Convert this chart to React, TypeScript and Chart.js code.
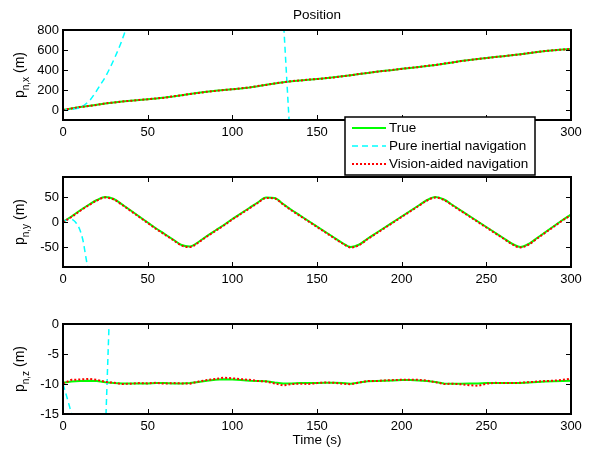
import React, { useEffect, useRef } from 'react';
import { Chart, registerables } from 'chart.js';

Chart.register(...registerables);

const W = 595;
const H = 451;
const FONT = "'Liberation Sans', Arial, Helvetica, sans-serif";

// ---------- data ----------
const T = [
  0, 5, 10, 15, 20, 25, 30, 35, 40, 45,
  50, 55, 60, 65, 70, 75, 80, 85, 90, 95,
  100, 105, 110, 115, 120, 125, 130, 135, 140, 145,
  150, 155, 160, 165, 170, 175, 180, 185, 190, 195,
  200, 205, 210, 215, 220, 225, 230, 235, 240, 245,
  250, 255, 260, 265, 270, 275, 280, 285, 290, 295,
  300,
];

const PX_TRUE = [
  0, 15, 30, 40, 52, 65, 76, 85, 93, 100,
  108, 115, 124, 135, 148, 160, 172, 182, 192, 200,
  208, 216, 226, 238, 252, 265, 277, 288, 296, 303,
  310, 318, 327, 337, 348, 360, 371, 382, 392, 401,
  412, 421, 430, 440, 451, 463, 476, 489, 500, 510,
  520, 529, 538, 547, 557, 568, 580, 590, 598, 604,
  610,
];
const PX_VIS = [
  0, 16, 29, 41, 51, 66, 75, 86, 92, 101,
  107, 116, 123, 136, 147, 161, 171, 183, 191, 201,
  207, 217, 225, 239, 251, 266, 276, 289, 295, 304,
  309, 319, 326, 338, 347, 361, 370, 383, 391, 402,
  411, 422, 429, 441, 450, 464, 475, 490, 499, 511,
  519, 530, 537, 548, 556, 569, 579, 591, 597, 605,
  609,
];
const INS_X_T = [0, 4, 8, 10, 13, 16, 19, 22, 25, 28, 31, 34, 37, 40, 60, 90, 120, 128, 130, 131, 132, 133, 134, 136, 150, 200, 300];
const INS_X_V = [0, 4, 14, 25, 55, 100, 170, 250, 330, 430, 540, 660, 800, 940, 2200, 3500, 2400, 1500, 950, 650, 350, 50, -250, -900, -4000, -12000, -30000];

const PY_TRUE = [
  0, 11, 23, 34, 44, 50, 46, 35, 23, 11,
  -1, -13, -24, -35, -46, -49, -40, -28, -17, -6,
  6, 17, 28, 39, 49, 48, 36, 24, 13, 2,
  -9, -20, -31, -42, -50, -45, -33, -22, -11, 0,
  11, 22, 33, 44, 50, 45, 34, 23, 12, 1,
  -10, -21, -32, -43, -50, -44, -32, -20, -8, 4,
  15,
];
const PY_VIS = [
  0, 10, 22, 33, 43, 49, 45, 34, 22, 10,
  -2, -14, -25, -36, -47, -50, -41, -29, -18, -7,
  5, 16, 27, 38, 48, 47, 35, 23, 12, 1,
  -10, -21, -32, -43, -51, -46, -34, -23, -12, -1,
  10, 21, 32, 43, 49, 44, 33, 22, 11, 0,
  -11, -22, -33, -44, -51, -45, -33, -21, -9, 3,
  14,
];
const INS_Y_T = [0, 2, 4, 6, 8, 10, 12, 13, 14, 15, 17, 20, 40, 300];
const INS_Y_V = [0, 4, 6, 4, -3, -16, -40, -60, -80, -100, -140, -210, -900, -50000];

const PZ_TRUE = [
  -9.8, -9.6, -9.5, -9.45, -9.5, -9.7, -9.85, -9.9, -9.9, -9.9,
  -9.9, -9.85, -9.85, -9.9, -9.9, -9.85, -9.65, -9.45, -9.3, -9.2,
  -9.25, -9.35, -9.45, -9.5, -9.55, -9.75, -9.9, -9.9, -9.85, -9.85,
  -9.85, -9.8, -9.8, -9.85, -9.95, -9.75, -9.55, -9.5, -9.45, -9.4,
  -9.35, -9.35, -9.4, -9.5, -9.65, -9.9, -9.95, -9.95, -9.9, -9.9,
  -9.85, -9.85, -9.85, -9.85, -9.85, -9.75, -9.65, -9.6, -9.55, -9.5,
  -9.45,
];
const PZ_VIS = [
  -9.9, -9.3, -9.25, -9.15, -9.3, -9.65, -9.8, -10.0, -9.95, -9.85,
  -9.9, -9.8, -9.95, -9.85, -9.9, -9.95, -9.6, -9.35, -9.15, -8.95,
  -9.05, -9.2, -9.3, -9.5, -9.6, -9.9, -10.25, -10.0, -9.95, -10.0,
  -9.85, -9.75, -9.8, -9.95, -10.05, -9.75, -9.5, -9.5, -9.4, -9.35,
  -9.3, -9.3, -9.3, -9.45, -9.7, -10.0, -9.95, -10.05, -10.2, -10.3,
  -9.95, -9.8, -9.85, -9.85, -9.8, -9.7, -9.6, -9.5, -9.45, -9.3,
  -9.1,
];
const INS_Z_T = [0, 2, 4, 5, 6, 10, 15, 20, 23, 24.5, 25.4, 26.3, 27.2, 28, 30, 40, 300];
const INS_Z_V = [-10, -11.9, -13.9, -15, -16.2, -22, -32, -38, -33, -22.5, -15, -7.5, 0, 7, 25, 120, 3000];

const X_TICKS = [0, 50, 100, 150, 200, 250, 300];
const PX_TICKS = [0, 200, 400, 600, 800];
const PY_TICKS = [-50, 0, 50];
const PZ_TICKS = [-15, -10, -5, 0];

const LEGEND_LABELS = ['True', 'Pure inertial navigation', 'Vision-aided navigation'];
const TITLE = 'Position';
const X_LABEL = 'Time (s)';

// ---------- styles / layout ----------
const C_TRUE = '#00ff00';
const C_INS = '#00ffff';
const C_VIS = '#ff0000';
const LEFT = 63;
const RIGHT = 571;
const XAXIS_H = 30;

const PANELS = [
  { sub: 'n,x', min: -100, max: 800, ticks: PX_TICKS, top: 30, bottom: 120, tv: PX_TRUE, vv: PX_VIS, it: INS_X_T, iv: INS_X_V, title: true, legend: true, xlabel: false, smooth: false },
  { sub: 'n,y', min: -90, max: 90, ticks: PY_TICKS, top: 177, bottom: 267, tv: PY_TRUE, vv: PY_VIS, it: INS_Y_T, iv: INS_Y_V, title: false, legend: false, xlabel: false, smooth: true },
  { sub: 'n,z', min: -15, max: 0, ticks: PZ_TICKS, top: 324, bottom: 414, tv: PZ_TRUE, vv: PZ_VIS, it: INS_Z_T, iv: INS_Z_V, title: false, legend: false, xlabel: true, smooth: false },
];

function pts(t: number[], v: number[]) {
  return t.map((x, i) => ({ x, y: v[i] }));
}

const boxPlugin = {
  id: 'mbox',
  afterDatasetsDraw(chart: any) {
    const { ctx, chartArea: a, scales } = chart;
    ctx.save();
    ctx.strokeStyle = '#000';
    ctx.lineWidth = 1;
    ctx.setLineDash([]);
    ctx.beginPath();
    for (const t of scales.x.ticks) {
      const px = Math.round(scales.x.getPixelForValue(t.value)) + 0.5;
      ctx.moveTo(px, a.bottom);
      ctx.lineTo(px, a.bottom - 5);
      ctx.moveTo(px, a.top);
      ctx.lineTo(px, a.top + 5);
    }
    for (const t of scales.y.ticks) {
      const py = Math.round(scales.y.getPixelForValue(t.value)) + 0.5;
      ctx.moveTo(a.left, py);
      ctx.lineTo(a.left + 5, py);
      ctx.moveTo(a.right, py);
      ctx.lineTo(a.right - 5, py);
    }
    ctx.stroke();
    ctx.lineWidth = 2;
    ctx.strokeRect(a.left, a.top, a.right - a.left, a.bottom - a.top);
    ctx.restore();
  },
  afterDraw(chart: any, _args: any, opts: any) {
    const { ctx, chartArea: a } = chart;
    ctx.save();
    ctx.fillStyle = '#000';
    // y label with subscript
    const cy = (a.top + a.bottom) / 2;
    ctx.translate(24, cy);
    ctx.rotate(-Math.PI / 2);
    const big = `14px ${FONT}`;
    const small = `10px ${FONT}`;
    ctx.font = big;
    const w1 = ctx.measureText('p').width;
    const w3 = ctx.measureText(' (m)').width;
    ctx.font = small;
    const w2 = ctx.measureText(opts.sub).width;
    let x0 = -(w1 + w2 + w3) / 2;
    ctx.textBaseline = 'alphabetic';
    ctx.textAlign = 'left';
    ctx.font = big;
    ctx.fillText('p', x0, 0);
    x0 += w1;
    ctx.font = small;
    ctx.fillText(opts.sub, x0, 5);
    x0 += w2;
    ctx.font = big;
    ctx.fillText(' (m)', x0, 0);
    ctx.restore();

    ctx.save();
    ctx.fillStyle = '#000';
    ctx.font = `13.5px ${FONT}`;
    ctx.textAlign = 'center';
    ctx.textBaseline = 'middle';
    const cx = (a.left + a.right) / 2;
    if (opts.title) ctx.fillText(TITLE, cx, a.top - 15);
    if (opts.xlabel) ctx.fillText(X_LABEL, cx, a.bottom + 26);
    ctx.restore();

    if (opts.legend) {
      const lx = a.right - 226;
      const ly = a.bottom - 3;
      const lw = 190;
      const lh = 58;
      ctx.save();
      ctx.fillStyle = '#fff';
      ctx.fillRect(lx, ly, lw, lh);
      ctx.strokeStyle = '#000';
      ctx.lineWidth = 1.5;
      ctx.strokeRect(lx, ly, lw, lh);
      const styles = [
        { c: C_TRUE, w: 2, d: [] as number[] },
        { c: C_INS, w: 1.5, d: [6, 4] },
        { c: C_VIS, w: 2, d: [2, 2] },
      ];
      LEGEND_LABELS.forEach((lab, i) => {
        const y = ly + 11 + i * 18;
        ctx.strokeStyle = styles[i].c;
        ctx.lineWidth = styles[i].w;
        ctx.setLineDash(styles[i].d);
        ctx.beginPath();
        ctx.moveTo(lx + 7, y);
        ctx.lineTo(lx + 41, y);
        ctx.stroke();
        ctx.setLineDash([]);
        ctx.fillStyle = '#000';
        ctx.font = `13.5px ${FONT}`;
        ctx.textAlign = 'left';
        ctx.textBaseline = 'middle';
        ctx.fillText(lab, lx + 44, y);
      });
      ctx.restore();
    }
  },
};

function makeConfig(p: any): any {
  const tickFont = { size: 13, family: FONT };
  const interp = p.smooth ? { cubicInterpolationMode: 'monotone' } : { tension: 0 };
  return {
    type: 'line',
    data: {
      datasets: [
        { label: LEGEND_LABELS[0], data: pts(T, p.tv), borderColor: C_TRUE, borderWidth: 2, pointRadius: 0, order: 3, ...interp },
        { label: LEGEND_LABELS[1], data: pts(p.it, p.iv), borderColor: C_INS, borderWidth: 1.5, borderDash: [6, 4], pointRadius: 0, cubicInterpolationMode: 'monotone', order: 2 },
        { label: LEGEND_LABELS[2], data: pts(T, p.vv), borderColor: C_VIS, borderWidth: 2, borderDash: [2, 2], pointRadius: 0, order: 1, ...interp },
      ],
    },
    options: {
      animation: false,
      responsive: false,
      maintainAspectRatio: false,
      events: [],
      layout: { padding: { top: p.top, bottom: H - p.bottom - XAXIS_H, left: 0, right: W - RIGHT } },
      plugins: {
        legend: { display: false },
        tooltip: { enabled: false },
        mbox: { sub: p.sub, title: p.title, legend: p.legend, xlabel: p.xlabel },
      },
      scales: {
        x: {
          type: 'linear',
          min: 0,
          max: 300,
          grid: { display: false, drawTicks: false },
          border: { display: false },
          ticks: { padding: 5, color: '#000', font: tickFont, maxRotation: 0, autoSkip: false, callback: (v: number) => String(v) },
          afterBuildTicks: (s: any) => { s.ticks = X_TICKS.map((v) => ({ value: v })); },
          afterFit: (s: any) => { s.height = XAXIS_H; },
        },
        y: {
          type: 'linear',
          min: p.min,
          max: p.max,
          grid: { display: false, drawTicks: false },
          border: { display: false },
          ticks: { padding: 4, color: '#000', font: tickFont, autoSkip: false, callback: (v: number) => String(v) },
          afterBuildTicks: (s: any) => { s.ticks = p.ticks.map((v: number) => ({ value: v })); },
          afterFit: (s: any) => { s.width = LEFT; },
        },
      },
    },
    plugins: [boxPlugin],
  };
}

function Panel({ p }: { p: any }) {
  const ref = useRef<HTMLCanvasElement | null>(null);
  useEffect(() => {
    if (!ref.current) return;
    const chart = new Chart(ref.current, makeConfig(p));
    return () => chart.destroy();
  }, [p]);
  return <canvas ref={ref} width={W} height={H} style={{ position: 'absolute', left: 0, top: 0, width: W, height: H }} />;
}

export default function App() {
  useEffect(() => {
    document.body.style.margin = '0';
  }, []);
  return (
    <div style={{ position: 'fixed', left: 0, top: 0, width: W, height: H, background: '#fff', overflow: 'hidden' }}>
      {PANELS.map((p, i) => (
        <Panel key={i} p={p} />
      ))}
    </div>
  );
}
